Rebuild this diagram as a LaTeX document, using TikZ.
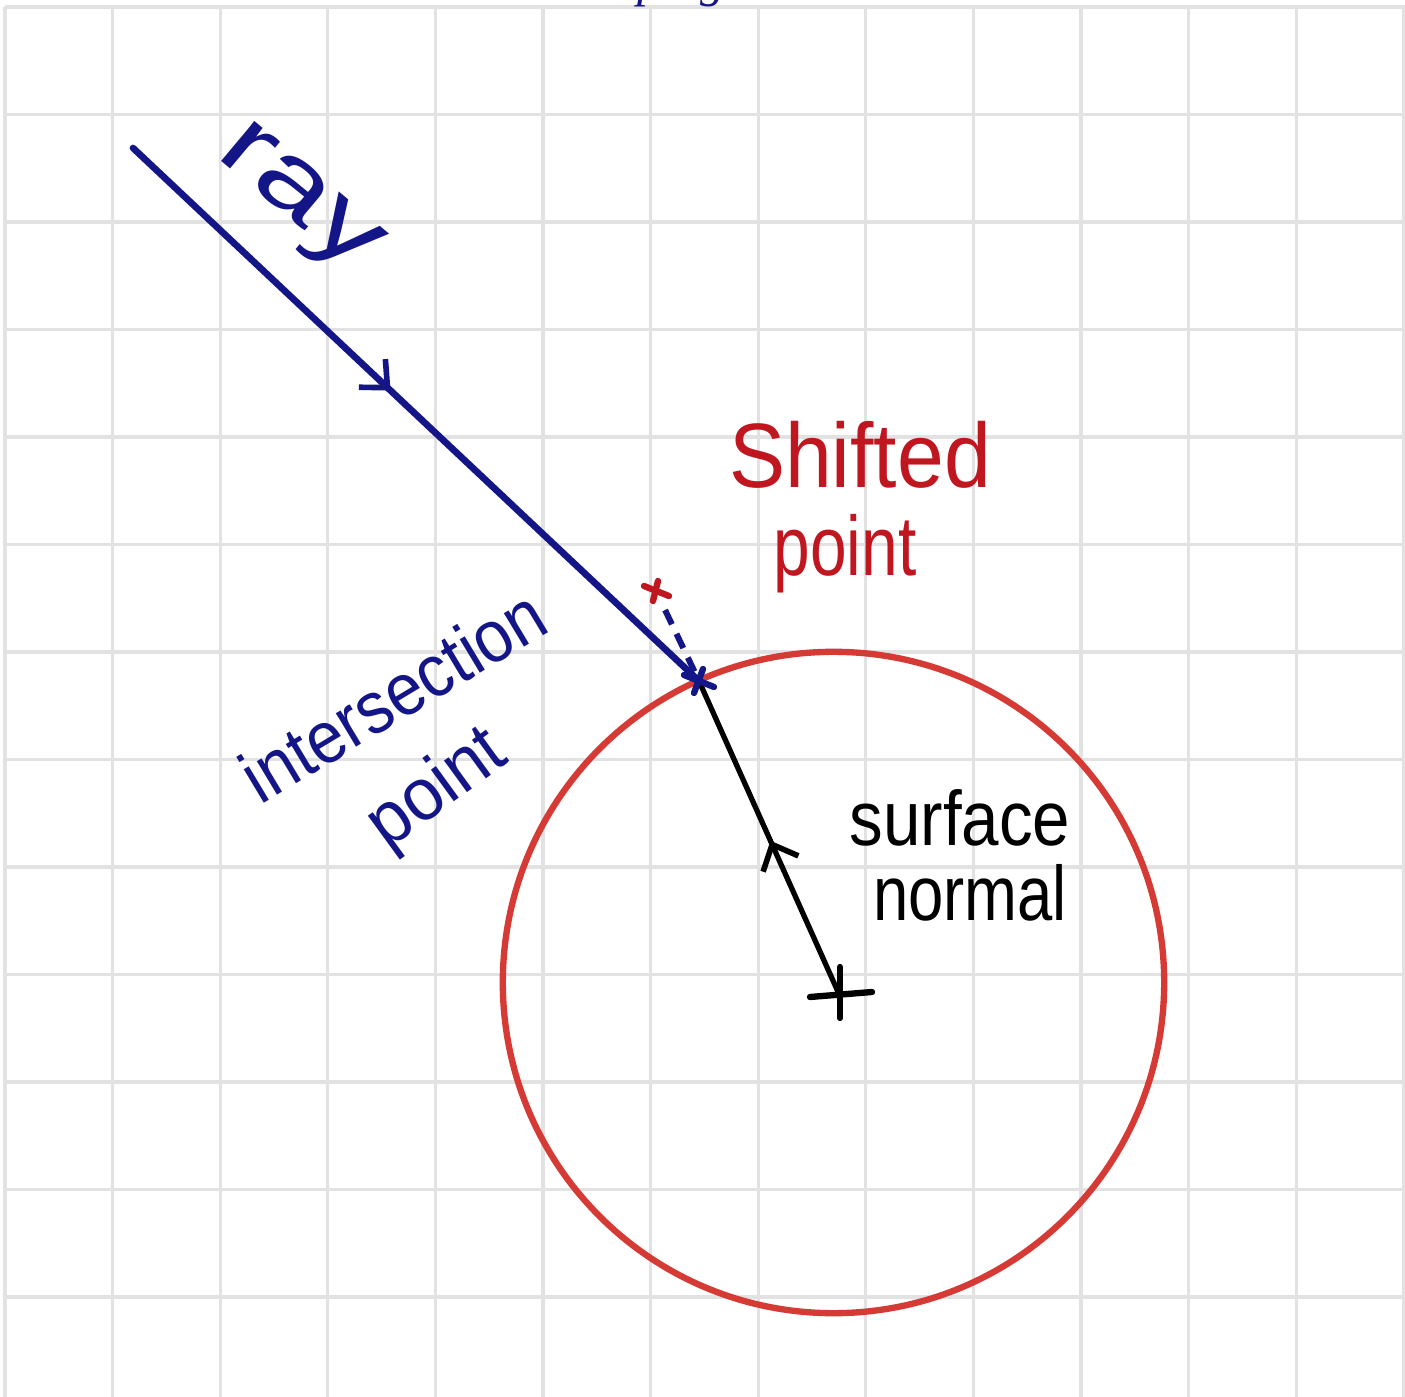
\documentclass[tikz,border=0pt]{standalone}
\usepackage{fontspec}
\setmainfont{Liberation Sans}
\newfontfamily\serifit{Liberation Serif}
\usetikzlibrary{arrows.meta,decorations.markings}
\definecolor{inkblue}{RGB}{20,22,135}
\definecolor{inkred}{RGB}{192,22,32}
\definecolor{circred}{RGB}{214,58,52}
\definecolor{gridgray}{RGB}{226,226,226}
\tikzset{
  gridline/.style={draw=gridgray, line width=0.9pt},
  rayline/.style={draw=inkblue, line width=1.9pt, line cap=round},
  normline/.style={draw=black, line width=1.5pt, line cap=round},
  midbarb/.style={postaction={decorate}, decoration={markings,
      mark=at position #1 with {\arrow{Straight Barb[length=6pt,width=11pt,line width=1.6pt]}}}},
  lbl/.style={inner sep=0pt},
  ringstyle/.style={circle, draw=circred, line width=1.8pt, minimum size=6.61cm, inner sep=0pt},
  markstroke/.style={line width=1.8pt, line cap=round}
}
\begin{document}
\begin{tikzpicture}[x=0.01cm,y=-0.01cm]
\useasboundingbox (0,0) rectangle (1405,1397);
\clip (0,0) rectangle (1405,1397);
\fill[white] (0,0) rectangle (1405,1397);
% grid
\foreach \i in {0,...,13} \draw[gridline] ({5+107.6*\i},7) -- ({5+107.6*\i},1397);
\foreach \j in {0,...,12} \draw[gridline] (5,{7+107.5*\j}) -- (1405,{7+107.5*\j});
% cut-off caption at the top
\node[lbl, inkblue, font=\serifit\itshape\fontsize{14}{16}\selectfont, anchor=base west] (cap) at (637,-3) {ping};
% points
\coordinate (raystart) at (133,148);
\coordinate (ip) at (699,681);
\coordinate (ctr) at (839,994);
\coordinate (sp) at (656,591);
% sphere
\node[ringstyle] (sphere) at (833.5,982.5) {};
% ray
\draw[rayline, midbarb=0.455] (raystart) -- (ip);
% dashed offset
\draw[inkblue, line width=1.7pt, dash pattern=on 4.5pt off 3pt, shorten <=6pt, shorten >=3pt] (sp) -- (ip);
% normal
\draw[normline, midbarb=0.49] (ctr) -- (ip);
% centre cross
\draw[black, markstroke] (ctr) ++(-29,3) -- ++(62,-5);
\draw[black, markstroke] (ctr) ++(1,-27) -- ++(0,51);
% intersection marker
\draw[inkblue, markstroke] (ip) ++(-15,-6) -- ++(30,12);
\draw[inkblue, markstroke] (ip) ++(-5,12) -- ++(9,-24);
% shifted point marker
\draw[inkred, markstroke] (sp) ++(-12,-5) -- ++(25,10);
\draw[inkred, markstroke] (sp) ++(-3,10) -- ++(5,-20);
% labels
\node[lbl, inkblue, font=\fontsize{28}{30}\selectfont, rotate=-40, xscale=1.35] (raylbl) at (296,202) {ray};
\node[lbl, inkred, font=\fontsize{26}{28}\selectfont, xscale=0.92] (shlbl) at (860,455) {Shifted};
\node[lbl, inkred, font=\fontsize{24}{26}\selectfont, xscale=0.78] (shpt) at (845,554) {point};
\node[lbl, inkblue, font=\fontsize{21}{23}\selectfont, rotate=31, xscale=0.9] (islbl) at (393,695) {intersection};
\node[lbl, inkblue, font=\fontsize{21}{23}\selectfont, rotate=36, xscale=0.95] (ispt) at (438,790) {point};
\node[lbl, black, font=\fontsize{22}{24}\selectfont, xscale=0.87] (sflbl) at (960,818) {surface};
\node[lbl, black, font=\fontsize{22}{24}\selectfont, xscale=0.82] (nmlbl) at (970,893) {normal};
\end{tikzpicture}
\end{document}
